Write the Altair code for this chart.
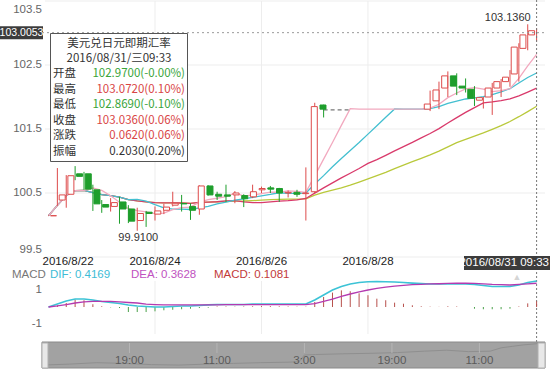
import altair as alt
import pandas as pd

FONT = "Liberation Sans"
CJK = "Noto Sans CJK SC"
RED = "#dd4b4b"
GREEN = "#1e9e2c"

# ---------------- price data (4-hour bars, index 0 = 2016/8/22 00:00) ----------------
idx = list(range(0, 32)) + list(range(43, 56))
opens = [100.145, 100.39, 100.48, 100.80, 100.80, 100.55, 100.32, 100.29, 100.36, 100.25,
         100.07, 100.20, 100.17, 100.23, 100.31, 100.335, 100.29, 100.25, 100.61, 100.48,
         100.47, 100.47, 100.46, 100.44, 100.55, 100.58, 100.57, 100.50, 100.51, 100.49,
         100.52, 101.875,
         101.81, 101.94, 102.14, 102.33, 102.17, 102.12, 101.95, 102.00, 102.14, 102.24,
         102.36, 102.76, 102.97]
highs = [100.15, 100.89, 100.78, 100.92, 100.83, 100.63, 100.39, 100.42, 100.44, 100.31,
         100.27, 100.22, 100.29, 100.33, 100.52, 100.47, 100.34, 100.62, 100.62, 100.52,
         100.63, 100.53, 100.48, 100.63, 100.60, 100.61, 100.58, 100.54, 100.55, 100.90,
         101.91, 101.88,
         102.10, 102.24, 102.40, 102.37, 102.29, 102.17, 102.00, 102.22, 102.28, 102.42,
         102.84, 103.136, 103.072]
lows = [100.14, 100.30, 100.27, 100.70, 100.55, 100.22, 100.19, 100.21, 100.02, 100.03,
        99.91, 99.97, 100.07, 100.17, 100.29, 100.21, 100.08, 100.16, 100.46, 100.39,
        100.36, 100.34, 100.28, 100.42, 100.50, 100.50, 100.36, 100.43, 100.44, 100.07,
        100.50, 101.68,
        101.78, 101.81, 102.00, 102.03, 102.07, 101.86, 101.82, 101.72, 102.00, 102.16,
        102.24, 102.73, 102.869]
closes = [100.145, 100.47, 100.77, 100.76, 100.56, 100.33, 100.28, 100.35, 100.25, 100.06,
          100.18, 100.18, 100.22, 100.28, 100.34, 100.33, 100.23, 100.61, 100.47, 100.45,
          100.45, 100.50, 100.41, 100.52, 100.57, 100.56, 100.50, 100.51, 100.48, 100.50,
          101.85, 101.81,
          101.89, 102.11, 102.33, 102.17, 102.14, 101.98, 101.99, 102.14, 102.24, 102.31,
          102.78, 102.97, 103.036]
# weekend gap: price carried flat (not drawn as candles)
gap_idx = [32, 33, 34, 35, 36, 37, 38, 39, 40, 41, 42]
gap_close = [101.81, 101.81, 101.81, 101.81, 101.81, 101.81, 101.81, 101.81, 101.81, 101.81, 101.81]
gap_dash_i = [31, 34]
gap_dash_v = [101.80, 101.80]

price_ticks = [99.5, 100.5, 101.5, 102.5, 103.5]
date_ticks_i = [0, 12, 24, 36]
date_labels = ["2016/8/22", "2016/8/24", "2016/8/26", "2016/8/28"]
grid_i = [12, 24, 36]

ma_names = ["ma30", "ma20", "ma10", "ma5"]
ma_periods = [30, 20, 10, 5]
ma_colors = ["#b9c93b", "#d93a6b", "#43bfd0", "#f2a9bf"]

cross_i = 55
cross_v = 103.0053
cross_label = "2016/08/31 09:33"

# ---------------- MACD (index 0..55) ----------------
macd_i = list(range(0, 56))
dif = [0.00, 0.17, 0.35, 0.46, 0.46, 0.40, 0.32, 0.26, 0.20, 0.12,
       0.06, 0.03, 0.00, 0.00, 0.03, 0.06, 0.06, 0.09, 0.12, 0.14,
       0.14, 0.14, 0.14, 0.17, 0.17, 0.17, 0.17, 0.17, 0.17, 0.17,
       0.40, 0.69, 0.98, 1.18, 1.33, 1.41, 1.46, 1.47, 1.46, 1.44,
       1.41, 1.38, 1.36, 1.33, 1.33, 1.33, 1.33, 1.33, 1.30, 1.24,
       1.18, 1.18, 1.18, 1.27, 1.41, 1.50]
dea = [0.00, 0.06, 0.14, 0.23, 0.29, 0.32, 0.32, 0.32, 0.29, 0.26,
       0.23, 0.17, 0.14, 0.12, 0.12, 0.12, 0.12, 0.12, 0.12, 0.12,
       0.14, 0.14, 0.14, 0.14, 0.14, 0.14, 0.14, 0.14, 0.14, 0.14,
       0.20, 0.32, 0.46, 0.61, 0.75, 0.87, 0.98, 1.07, 1.15, 1.21,
       1.25, 1.29, 1.31, 1.33, 1.34, 1.36, 1.37, 1.37, 1.36, 1.33,
       1.30, 1.29, 1.27, 1.30, 1.33, 1.37]
hist = [0.00, 0.10, 0.23, 0.43, 0.39, 0.16, 0.04, -0.02, -0.06, -0.29,
        -0.29, -0.29, -0.25, -0.19, -0.16, -0.13, -0.10, -0.06, -0.04, 0.03,
        0.03, 0.02, 0.03, 0.04, 0.05, 0.05, 0.04, 0.03, 0.02, 0.02,
        0.29, 0.58, 0.83, 0.96, 0.91, 0.79, 0.68, 0.48, 0.39, 0.25,
        0.19, 0.10, 0.04, 0.02, 0.01, 0.04, 0.03, 0.00, -0.10, -0.13,
        -0.13, -0.13, -0.10, 0.03, 0.21, 0.33]
macd_ticks = [1, -1]
macd_legend = ["MACD", "DIF: 0.4169", "DEA: 0.3628", "MACD: 0.1081"]
macd_legend_colors = ["#777777", "#3dbcd6", "#c052c0", "#c23a3a"]

# ---------------- navigator ----------------
nav_h = [0, 5, 10, 15, 20, 25, 30, 35, 40, 45, 47, 48, 50, 55, 60, 65, 70, 74, 78, 82, 84, 86, 88, 91]
nav_v = [0.08, 0.12, 0.18, 0.15, 0.10, 0.08, 0.12, 0.15, 0.18, 0.20, 0.22, 0.50, 0.52, 0.55, 0.57, 0.60, 0.66, 0.70, 0.64, 0.66, 0.80, 0.86, 0.92, 0.98]
nav_ticks = [16, 32, 48, 64, 80]
nav_labels = ["19:00", "11:00", "3:00", "19:00", "11:00"]

# ---------------- tooltip ----------------
tip_title = "美元兑日元即期汇率"
tip_date = "2016/08/31/三09:33"
tip_names = ["开盘", "最高", "最低", "收盘", "涨跌", "振幅"]
tip_values = ["102.9700(-0.00%)", "103.0720(0.10%)", "102.8690(-0.10%)",
              "103.0360(0.06%)", "0.0620(0.06%)", "0.2030(0.20%)"]
tip_colors = ["#3aa53a", "#d94545", "#3aa53a", "#d94545", "#d94545", "#333333"]

# ---------------- scales ----------------
X = alt.Scale(domain=[0, 55], range=[48.5, 536.6], nice=False, zero=False)
YP = alt.Scale(domain=[99.5, 103.5], range=[257, 1], nice=False, zero=False)
YM = alt.Scale(domain=[-1.5, 1.5], range=[333, 281], nice=False, zero=False)
XN = alt.Scale(domain=[0, 92], range=[42, 545], nice=False, zero=False)
YN = alt.Scale(domain=[0, 1], range=[367, 343], nice=False, zero=False)


def xi(f="i"):
    return alt.X(f"{f}:Q", scale=X, axis=None)


def yp(f):
    return alt.Y(f"{f}:Q", scale=YP, axis=None)


def ym(f):
    return alt.Y(f"{f}:Q", scale=YM, axis=None)


layers = []

# grid
gdf = pd.DataFrame({"v": price_ticks})
layers.append(alt.Chart(gdf).mark_rule(color="#ededed", strokeWidth=1).encode(
    y=yp("v"), x=alt.value(45), x2=alt.value(545)))
vg = pd.DataFrame({"i": grid_i})
layers.append(alt.Chart(vg).mark_rule(color="#ededed", strokeWidth=1).encode(
    x=xi(), y=alt.value(1), y2=alt.value(257)))
layers.append(alt.Chart(vg).mark_rule(color="#ededed", strokeWidth=1).encode(
    x=xi(), y=alt.value(281), y2=alt.value(334)))

# moving averages
mdf = pd.concat([pd.DataFrame({"i": idx, "c": closes}),
                 pd.DataFrame({"i": gap_idx, "c": gap_close})]).sort_values("i")
base = alt.Chart(mdf)
for name, p in zip(ma_names, ma_periods):
    base = base.transform_window(**{name: "mean(c)"}, frame=[-(p - 1), 0], sort=[alt.SortField("i")])
for name, col in zip(ma_names, ma_colors):
    layers.append(base.mark_line(color=col, strokeWidth=1.3).encode(x=xi(), y=yp(name)))

# gap dashed line
ddf = pd.DataFrame({"i": gap_dash_i, "v": gap_dash_v})
layers.append(alt.Chart(ddf).mark_line(color="#777", strokeDash=[4, 3], strokeWidth=1.3).encode(
    x=xi(), y=yp("v")))

# candles
cdf = pd.DataFrame({"i": idx, "o": opens, "h": highs, "l": lows, "c": closes})
up = "datum.c >= datum.o"
layers.append(alt.Chart(cdf).mark_rule(strokeWidth=1).encode(
    x=xi(), y=yp("l"), y2="h",
    color=alt.condition(up, alt.value(RED), alt.value(GREEN))))
layers.append(alt.Chart(cdf).mark_bar(size=6, strokeWidth=1).encode(
    x=xi(), y=yp("o"), y2="c",
    fill=alt.condition(up, alt.value("#ffffff"), alt.value(GREEN)),
    stroke=alt.condition(up, alt.value(RED), alt.value(GREEN))))

# max / min labels
imax = highs.index(max(highs))
imin = lows.index(min(lows))
mx = pd.DataFrame({"i": [idx[imax]], "v": [highs[imax]], "t": [f"{highs[imax]:.4f}"]})
mn = pd.DataFrame({"i": [idx[imin]], "v": [lows[imin]], "t": [f"{lows[imin]:.4f}"]})
layers.append(alt.Chart(mx).mark_text(font=FONT, fontSize=11, color="#333", align="right",
                                      baseline="bottom", dx=3, dy=-1).encode(
    x=xi(), y=yp("v"), text="t:N"))
layers.append(alt.Chart(mn).mark_text(font=FONT, fontSize=11, color="#333", align="center",
                                      baseline="top", dx=1, dy=1).encode(
    x=xi(), y=yp("v"), text="t:N"))

# crosshair
cx = pd.DataFrame({"i": [cross_i], "v": [cross_v], "t": [f"{cross_v:.4f}"], "d": [cross_label]})
layers.append(alt.Chart(cx).mark_rule(color="#777", strokeDash=[2, 2], strokeWidth=1).encode(
    x=xi(), y=alt.value(0), y2=alt.value(345)))
layers.append(alt.Chart(cx).mark_rule(color="#999", strokeDash=[2, 3], strokeWidth=1).encode(
    y=yp("v"), x=alt.value(42), x2=alt.value(546)))

# y axis labels (price)
ylab = pd.DataFrame({"v": price_ticks, "t": [f"{v:g}" for v in price_ticks]})
lab_style = dict(font=FONT, fontSize=11.5, color="#666", align="right")
layers.append(alt.Chart(ylab).transform_filter("datum.v > 99.6 && datum.v < 103.4").mark_text(
    baseline="middle", **lab_style).encode(x=alt.value(42), y=yp("v"), text="t:N"))
layers.append(alt.Chart(ylab).transform_filter("datum.v >= 103.4").mark_text(
    baseline="middle", dy=9, **lab_style).encode(x=alt.value(42), y=yp("v"), text="t:N"))
layers.append(alt.Chart(ylab).transform_filter("datum.v <= 99.6").mark_text(
    baseline="middle", dy=-7, **lab_style).encode(x=alt.value(42), y=yp("v"), text="t:N"))

# crosshair value box (left)
layers.append(alt.Chart(cx).mark_rule(color="#3c3c3c", strokeWidth=13, strokeCap="butt").encode(
    y=yp("v"), x=alt.value(0), x2=alt.value(43)))
layers.append(alt.Chart(cx).mark_text(font=FONT, fontSize=10.5, color="#fff", align="center",
                                      baseline="middle").encode(
    x=alt.value(21.5), y=yp("v"), text="t:N"))

# x date labels
xl = pd.DataFrame({"i": date_ticks_i, "t": date_labels})
layers.append(alt.Chart(xl).transform_filter("datum.i == 0").mark_text(
    font=FONT, fontSize=11.5, color="#222", align="left", baseline="middle", dx=-6).encode(
    x=xi(), y=alt.value(262), text="t:N"))
layers.append(alt.Chart(xl).transform_filter("datum.i > 0").mark_text(
    font=FONT, fontSize=11.5, color="#222", align="center", baseline="middle").encode(
    x=xi(), y=alt.value(262), text="t:N"))

# crosshair date box (bottom)
layers.append(alt.Chart(cx).mark_rule(color="#3c3c3c", strokeWidth=14, strokeCap="butt").encode(
    y=alt.value(263), x=alt.value(464), x2=alt.value(550)))
layers.append(alt.Chart(cx).mark_text(font=FONT, fontSize=11.5, color="#fff", align="right",
                                      baseline="middle").encode(
    x=alt.value(549), y=alt.value(263), text="d:N"))

# MACD panel
mcd = pd.DataFrame({"i": macd_i, "dif": dif, "dea": dea, "hist": hist})
layers.append(alt.Chart(mcd).transform_calculate(zero="0").mark_rule(strokeWidth=1).encode(
    x=xi(), y=ym("zero"), y2="hist",
    color=alt.condition("datum.hist >= 0", alt.value("#b8504c"), alt.value("#4aa04a"))))
layers.append(alt.Chart(mcd).mark_line(color="#3cc3d6", strokeWidth=1.6).encode(x=xi(), y=ym("dif")))
layers.append(alt.Chart(mcd).mark_line(color="#b43ab0", strokeWidth=1.3).encode(x=xi(), y=ym("dea")))
mt = pd.DataFrame({"v": macd_ticks, "t": [str(v) for v in macd_ticks]})
layers.append(alt.Chart(mt).mark_text(font=FONT, fontSize=11.5, color="#666", align="right",
                                      baseline="middle").encode(
    x=alt.value(42), y=ym("v"), text="t:N"))

# MACD legend
leg = pd.DataFrame({"t": macd_legend, "k": [0, 1, 2, 3], "col": macd_legend_colors})
leg_x = [12, 50, 131, 214]
leg["lx"] = leg_x
layers.append(alt.Chart(leg).mark_text(font=FONT, fontSize=11.5, align="left", baseline="middle").encode(
    x=alt.X("lx:Q", scale=None, axis=None), y=alt.value(274.5), text="t:N",
    color=alt.Color("col:N", scale=None)))
layers.append(alt.Chart(cx).mark_text(text="▲", fontSize=9, color="#d5d5d5").encode(
    x=alt.value(517), y=alt.value(277)))

# navigator
layers.append(alt.Chart(cx).mark_rect(fill="#a2a2a2", stroke="#8a8a8a", strokeWidth=1).encode(
    x=alt.value(42), x2=alt.value(545), y=alt.value(342), y2=alt.value(368)))
ndf = pd.DataFrame({"h": nav_h, "v": nav_v})
layers.append(alt.Chart(ndf).mark_line(color="#8f8f8f", strokeWidth=1).encode(
    x=alt.X("h:Q", scale=XN, axis=None), y=alt.Y("v:Q", scale=YN, axis=None)))
nt = pd.DataFrame({"h": nav_ticks, "t": nav_labels})
layers.append(alt.Chart(nt).mark_rule(color="#b5b5b5", strokeWidth=1).encode(
    x=alt.X("h:Q", scale=XN, axis=None), y=alt.value(343), y2=alt.value(353)))
layers.append(alt.Chart(nt).mark_text(font=FONT, fontSize=11.5, color="#5a5a5a", baseline="middle").encode(
    x=alt.X("h:Q", scale=XN, axis=None), y=alt.value(361), text="t:N"))
layers.append(alt.Chart(cx).mark_rect(fill="#e8e8e8", stroke="#b0b0b0", strokeWidth=1).encode(
    x=alt.value(42), x2=alt.value(48), y=alt.value(343), y2=alt.value(368)))
layers.append(alt.Chart(cx).mark_rect(fill="#e8e8e8", stroke="#b0b0b0", strokeWidth=1).encode(
    x=alt.value(538), x2=alt.value(545), y=alt.value(343), y2=alt.value(368)))

# tooltip box
layers.append(alt.Chart(cx).mark_rect(fill="#ffffff", stroke="#555555", strokeWidth=1).encode(
    x=alt.value(50.5), x2=alt.value(187.5), y=alt.value(33.5), y2=alt.value(161.5)))
th = pd.DataFrame({"t": [tip_title, tip_date], "k": [0, 1]})
layers.append(alt.Chart(th).transform_calculate(ty="44 + 15 * datum.k").mark_text(
    font=CJK, fontSize=11.5, color="#333", align="center", baseline="middle").encode(
    x=alt.value(119), y=alt.Y("ty:Q", scale=None, axis=None), text="t:N"))
tr = pd.DataFrame({"n": tip_names, "val": tip_values, "col": tip_colors, "k": list(range(6))})
layers.append(alt.Chart(tr).transform_calculate(ty="74 + 15.6 * datum.k").mark_text(
    font=CJK, fontSize=11.5, color="#333", align="left", baseline="middle").encode(
    x=alt.value(53), y=alt.Y("ty:Q", scale=None, axis=None), text="n:N"))
layers.append(alt.Chart(tr).transform_calculate(ty="74 + 15.6 * datum.k").mark_text(
    font=CJK, fontSize=11.5, align="right", baseline="middle").encode(
    x=alt.value(185), y=alt.Y("ty:Q", scale=None, axis=None), text="val:N",
    color=alt.Color("col:N", scale=None)))

chart = alt.layer(*layers).resolve_scale(x="independent", y="independent").properties(
    width=550, height=372, padding=0, autosize="none", background="#ffffff"
).configure_view(stroke=None)

chart.save("out.html", embed_options={"renderer": "svg", "actions": False})
